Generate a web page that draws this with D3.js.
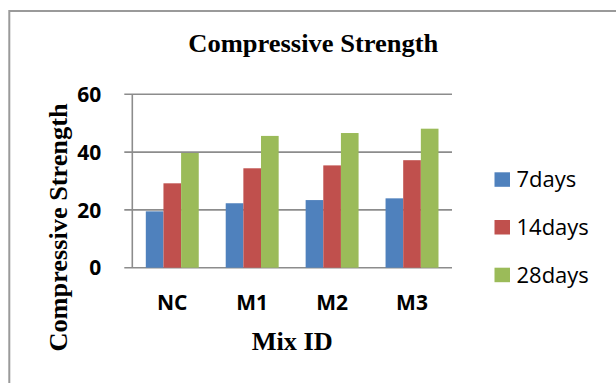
<!DOCTYPE html>
<html>
<head>
<meta charset="utf-8">
<script src="https://cdn.jsdelivr.net/npm/d3@7"></script>
<style>
  body { margin: 0; background: #fff; }
  svg { display: block; }
</style>
</head>
<body>
<svg id="chart"></svg>
<script>
// chart values
const mixes = ['NC', 'M1', 'M2', 'M3'];
const series = ['7days', '14days', '28days'];
const days7 = [19.5, 22.3, 23.4, 24.0];
const days14 = [29.2, 34.4, 35.4, 37.2];
const days28 = [39.7, 45.6, 46.6, 48.1];
const yTicks = [0, 20, 40, 60];

const colors = ['#4F81BD', '#C0504D', '#9BBB59'];
const values = [days7, days14, days28];

const W = 616, H = 383;
const margin = {left: 132.3, top: 94.3, right: 164, bottom: 115.3};
const plotW = W - margin.left - margin.right;
const plotH = H - margin.top - margin.bottom;

const svg = d3.select('#chart')
    .attr('width', W)
    .attr('height', H);

// outer frame (only left and top edges visible in the picture)
svg.append('rect')
    .attr('x', 9.3)
    .attr('y', 11)
    .attr('width', 700)
    .attr('height', 500)
    .attr('fill', 'none')
    .attr('stroke', '#9a9a9a')
    .attr('stroke-width', 2);

const g = svg.append('g')
    .attr('transform', `translate(${margin.left},${margin.top})`);

const x = d3.scaleBand()
    .domain(mixes)
    .range([0, plotW])
    .paddingInner(0.3375)
    .paddingOuter(0.169);

const xs = d3.scaleBand()
    .domain(series)
    .range([0, x.bandwidth()]);

const y = d3.scaleLinear()
    .domain([0, 60])
    .range([plotH, 0]);

// grid lines, a little longer on the left like tick marks
g.selectAll('line.grid')
    .data(yTicks)
    .enter()
    .append('line')
    .attr('class', 'grid')
    .attr('x1', -8)
    .attr('x2', plotW)
    .attr('y1', d => y(d))
    .attr('y2', d => y(d))
    .attr('stroke', '#8c8c8c')
    .attr('stroke-width', 1.6);

// y axis line
g.append('line')
    .attr('x1', 0).attr('x2', 0)
    .attr('y1', y(60)).attr('y2', y(0))
    .attr('stroke', '#8c8c8c')
    .attr('stroke-width', 1.6);

g.selectAll('text.ytick')
    .data(yTicks)
    .enter()
    .append('text')
    .attr('class', 'ytick')
    .attr('x', -31)
    .attr('y', d => y(d))
    .attr('dy', '0.37em')
    .attr('text-anchor', 'end')
    .style('font-family', '"Open Sans", "Liberation Sans", sans-serif')
    .style('font-weight', 'bold')
    .style('font-size', '21px')
    .text(d => d);

// bars
const groups = g.selectAll('g.mix')
    .data(mixes)
    .enter()
    .append('g')
    .attr('class', 'mix')
    .attr('transform', d => `translate(${x(d)},0)`);

groups.selectAll('rect')
    .data((m, i) => series.map((s, j) => ({s: s, v: values[j][i], c: colors[j]})))
    .enter()
    .append('rect')
    .attr('x', d => xs(d.s))
    .attr('width', xs.bandwidth())
    .attr('y', d => y(d.v))
    .attr('height', d => y(0) - y(d.v))
    .attr('fill', d => d.c);

// x labels
g.selectAll('text.xtick')
    .data(mixes)
    .enter()
    .append('text')
    .attr('class', 'xtick')
    .attr('x', d => x(d) + x.bandwidth() / 2)
    .attr('y', plotH + 42.5)
    .attr('text-anchor', 'middle')
    .style('font-family', '"Open Sans", "Liberation Sans", sans-serif')
    .style('font-weight', 'bold')
    .style('font-size', '21px')
    .text(d => d);

// titles
const serif = '"Liberation Serif", "Times New Roman", serif';

svg.append('text')
    .attr('x', 313.3)
    .attr('y', 52)
    .attr('text-anchor', 'middle')
    .attr('textLength', 250)
    .attr('lengthAdjust', 'spacingAndGlyphs')
    .style('font-family', serif)
    .style('font-weight', 'bold')
    .style('font-size', '26px')
    .text('Compressive Strength');

svg.append('text')
    .attr('x', margin.left + plotW / 2)
    .attr('y', 350)
    .attr('text-anchor', 'middle')
    .attr('textLength', 81)
    .attr('lengthAdjust', 'spacingAndGlyphs')
    .style('font-family', serif)
    .style('font-weight', 'bold')
    .style('font-size', '26px')
    .text('Mix ID');

svg.append('text')
    .attr('transform', 'translate(67,227.5) rotate(-90)')
    .attr('text-anchor', 'middle')
    .attr('textLength', 248)
    .attr('lengthAdjust', 'spacingAndGlyphs')
    .style('font-family', serif)
    .style('font-weight', 'bold')
    .style('font-size', '26px')
    .text('Compressive Strength');

// legend
const legend = svg.selectAll('g.legend')
    .data(series)
    .enter()
    .append('g')
    .attr('class', 'legend')
    .attr('transform', (d, i) => `translate(494.5,${172.3 + i * 47.7})`);

legend.append('rect')
    .attr('width', 15.5)
    .attr('height', 14.5)
    .attr('fill', (d, i) => colors[i]);

legend.append('text')
    .attr('x', 22)
    .attr('y', 15)
    .style('font-family', '"Open Sans", sans-serif')
    .style('font-size', '22px')
    .text(d => d);
</script>
</body>
</html>
